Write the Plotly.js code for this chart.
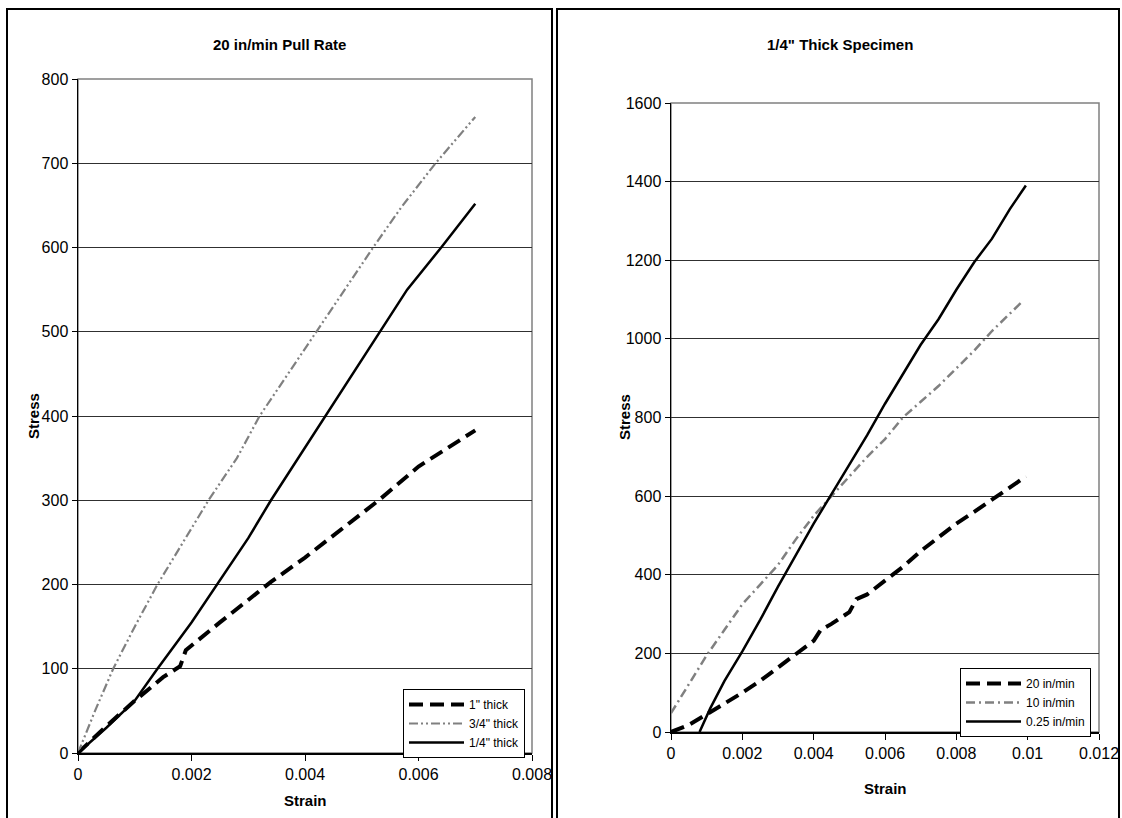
<!DOCTYPE html>
<html>
<head>
<meta charset="utf-8">
<script src="https://cdn.plot.ly/plotly-3.0.1.min.js"></script>
<style>html,body{margin:0;padding:0;background:#fff;}#chart{width:1122px;height:818px;}</style>
</head>
<body>
<div id="chart"></div>
<script>
// ---- Left chart: 20 in/min Pull Rate ----
const leftTitle = "20 in/min Pull Rate";
const t1Strain   = [0, 0.0005, 0.001, 0.0015, 0.0018, 0.0019, 0.0025, 0.003, 0.0034, 0.004, 0.0045, 0.005, 0.0053, 0.006, 0.0065, 0.007];
const t1Stress   = [0, 32, 62, 90, 103, 122, 155, 182, 203, 232, 258, 284, 300, 340, 362, 383];
const t34Strain  = [0, 0.0003, 0.00062, 0.001, 0.0014, 0.0019, 0.0023, 0.0028, 0.0032, 0.0037, 0.0042, 0.0047, 0.0052, 0.0057, 0.0063, 0.007];
const t34Stress  = [0, 50, 100, 150, 200, 255, 300, 350, 400, 450, 500, 550, 600, 648, 700, 755];
const t14Strain  = [0, 0.0005, 0.001, 0.0014, 0.002, 0.00245, 0.003, 0.0034, 0.00388, 0.00435, 0.00484, 0.00532, 0.0058, 0.0064, 0.007];
const t14Stress  = [0, 30, 62, 100, 155, 200, 255, 300, 350, 400, 450, 500, 550, 600, 652];
const leftNames  = ['1" thick', '3/4" thick', '1/4" thick'];

// ---- Right chart: 1/4" Thick Specimen ----
const rightTitle = '1/4" Thick Specimen';
const r20Strain  = [0, 0.0005, 0.001, 0.0015, 0.002, 0.0025, 0.003, 0.0035, 0.004, 0.0042, 0.0045, 0.005, 0.0052, 0.0055, 0.006, 0.0065, 0.007, 0.0075, 0.008, 0.0085, 0.009, 0.0095, 0.00995];
const r20Stress  = [0, 18, 45, 72, 100, 130, 165, 200, 232, 260, 275, 305, 338, 350, 385, 420, 460, 495, 530, 560, 590, 620, 650];
const r10Strain  = [0, 0.0005, 0.001, 0.0015, 0.002, 0.0025, 0.003, 0.0035, 0.004, 0.0045, 0.005, 0.0055, 0.006, 0.0065, 0.007, 0.0075, 0.008, 0.0085, 0.009, 0.0095, 0.00985];
const r10Stress  = [48, 120, 195, 260, 325, 375, 425, 490, 550, 600, 650, 700, 745, 800, 840, 880, 925, 970, 1020, 1065, 1095];
const r025Strain = [0.0008, 0.0011, 0.0015, 0.002, 0.0025, 0.003, 0.0035, 0.004, 0.0045, 0.005, 0.0055, 0.006, 0.0065, 0.007, 0.0075, 0.008, 0.0085, 0.009, 0.0095, 0.00995];
const r025Stress = [0, 60, 130, 205, 285, 370, 450, 530, 605, 680, 755, 835, 910, 985, 1050, 1125, 1195, 1255, 1330, 1390];
const rightNames = ['20 in/min', '10 in/min', '0.25 in/min'];

const W = 1122, H = 818;
const px = v => v / W;
const py = v => 1 - v / H;

const FONT = '"Liberation Sans", Arial, sans-serif';
const DASH_LONG = '14px,7px';
const DASH_DDOT = '9px,3px,2px,3px,2px,3px';
const DASH_DOT  = '9px,4px,2px,4px';

const traces = [
  {x: t1Strain, y: t1Stress, name: leftNames[0], mode: 'lines', xaxis: 'x', yaxis: 'y', legend: 'legend',
   line: {color: '#000', width: 4, dash: DASH_LONG}},
  {x: t34Strain, y: t34Stress, name: leftNames[1], mode: 'lines', xaxis: 'x', yaxis: 'y', legend: 'legend',
   line: {color: '#808080', width: 2.2, dash: DASH_DDOT}},
  {x: t14Strain, y: t14Stress, name: leftNames[2], mode: 'lines', xaxis: 'x', yaxis: 'y', legend: 'legend',
   line: {color: '#000', width: 2.5}},
  {x: r20Strain, y: r20Stress, name: rightNames[0], mode: 'lines', xaxis: 'x2', yaxis: 'y2', legend: 'legend2',
   line: {color: '#000', width: 4, dash: DASH_LONG}},
  {x: r10Strain, y: r10Stress, name: rightNames[1], mode: 'lines', xaxis: 'x2', yaxis: 'y2', legend: 'legend2',
   line: {color: '#808080', width: 2.5, dash: DASH_DOT}},
  {x: r025Strain, y: r025Stress, name: rightNames[2], mode: 'lines', xaxis: 'x2', yaxis: 'y2', legend: 'legend2',
   line: {color: '#000', width: 2.5}}
];

const tickFont = {family: FONT, size: 16, color: '#000'};
function xAx(domain, range, dtick, anchor) {
  return {domain: domain, range: range, dtick: dtick, tick0: 0, anchor: anchor,
    showgrid: false, zeroline: false, showline: true, linecolor: '#000', linewidth: 1.5,
    ticks: 'outside', ticklen: 6, tickcolor: '#000', tickwidth: 1, tickfont: tickFont, fixedrange: true};
}
function yAx(domain, range, dtick, anchor) {
  return {domain: domain, range: range, dtick: dtick, tick0: 0, anchor: anchor,
    showgrid: true, gridcolor: '#303030', gridwidth: 1, zeroline: false, showline: true, linecolor: '#000', linewidth: 1.5,
    ticks: 'outside', ticklen: 5, tickcolor: '#000', tickwidth: 1, tickfont: tickFont, fixedrange: true};
}

const L = {x0: 78, x1: 532, yTop: 79, yBot: 753};
const R = {x0: 671, x1: 1099, yTop: 103, yBot: 732};

const legendStyle = {bgcolor: '#fff', bordercolor: '#000', borderwidth: 1, itemwidth: 55,
  font: {family: FONT, size: 12, color: '#000'}, xanchor: 'left', yanchor: 'top', tracegroupgap: 0};

const titleFont = {family: FONT, size: 15, color: '#000'};
function ann(text, x, y, angle) {
  return {text: '<b>' + text + '</b>', xref: 'paper', yref: 'paper', x: px(x), y: py(y),
    xanchor: 'center', yanchor: 'middle', textangle: angle || 0, showarrow: false, font: titleFont};
}

const layout = {
  width: W, height: H,
  margin: {l: 0, r: 0, t: 0, b: 0, pad: 0},
  paper_bgcolor: '#fff', plot_bgcolor: '#fff',
  font: {family: FONT, color: '#000'},
  showlegend: true,
  xaxis: xAx([px(L.x0), px(L.x1)], [0, 0.008], 0.002, 'y'),
  yaxis: yAx([py(L.yBot), py(L.yTop)], [0, 800], 100, 'x'),
  xaxis2: xAx([px(R.x0), px(R.x1)], [0, 0.012], 0.002, 'y2'),
  yaxis2: yAx([py(R.yBot), py(R.yTop)], [0, 1600], 200, 'x2'),
  legend: Object.assign({x: px(403), y: py(689)}, legendStyle),
  legend2: Object.assign({x: px(960), y: py(668)}, legendStyle),
  shapes: [
    {type: 'rect', xref: 'paper', yref: 'paper', x0: px(7), x1: px(552), y0: py(830), y1: py(9),
     line: {color: '#000', width: 2}, fillcolor: 'rgba(0,0,0,0)', layer: 'below'},
    {type: 'rect', xref: 'paper', yref: 'paper', x0: px(557), x1: px(1119), y0: py(830), y1: py(9),
     line: {color: '#000', width: 2}, fillcolor: 'rgba(0,0,0,0)', layer: 'below'},
    {type: 'rect', xref: 'x domain', yref: 'y domain', x0: 0, x1: 1, y0: 0, y1: 1,
     line: {color: '#808080', width: 1.5}, layer: 'below'},
    {type: 'rect', xref: 'x2 domain', yref: 'y2 domain', x0: 0, x1: 1, y0: 0, y1: 1,
     line: {color: '#808080', width: 1.5}, layer: 'below'}
  ],
  annotations: [
    ann(leftTitle, 279, 45),
    ann(rightTitle, 840, 45),
    ann('Stress', 33, 416, -90),
    ann('Stress', 624, 417, -90),
    ann('Strain', 305, 800),
    ann('Strain', 885, 788)
  ]
};

Plotly.newPlot('chart', traces, layout, {displayModeBar: false, staticPlot: true});
</script>
</body>
</html>
